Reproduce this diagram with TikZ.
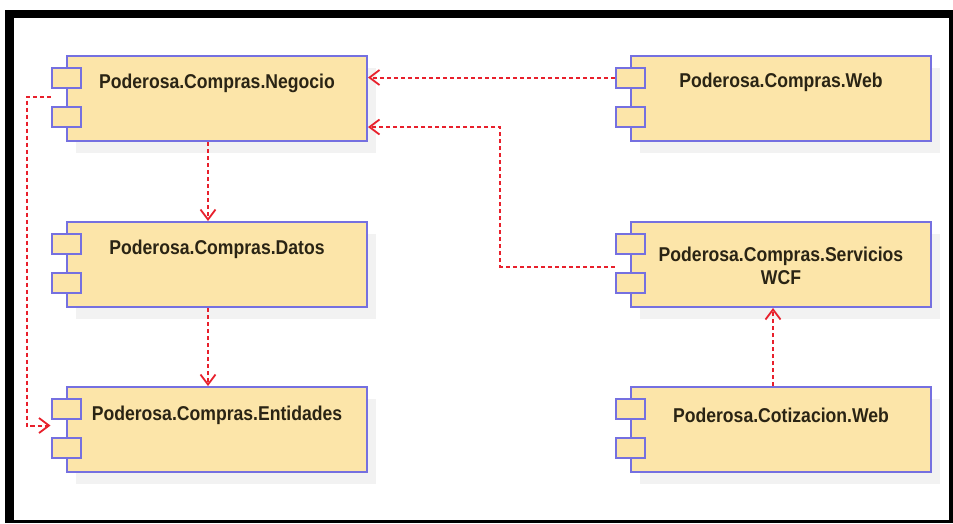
\documentclass[tikz,border=0pt]{standalone}
\usepackage{fontspec}
\usepackage{tikz}
\usetikzlibrary{shapes,positioning,calc,shadows}
\usetikzlibrary{arrows.meta}
\newfontfamily\compfont[FakeStretch=0.88]{Liberation Sans}
\definecolor{compfill}{HTML}{FCE5A9}
\definecolor{compline}{HTML}{7570E0}
\definecolor{depred}{HTML}{E8202C}
\definecolor{comptext}{HTML}{2A2414}
\tikzset{
  comp/.style={draw=compline, fill=compfill, line width=2pt,
    minimum width=300pt, minimum height=85pt, inner sep=0pt,
    drop shadow={shadow xshift=9pt, shadow yshift=-12pt, fill=black!5, opacity=1}},
  port/.style={draw=compline, fill=compfill, line width=2pt,
    minimum width=29pt, minimum height=20pt, inner sep=0pt},
  compname/.style={font=\compfont\bfseries\fontsize{20}{23}\selectfont,
    text=comptext, align=center, inner sep=0pt},
  dep/.style={draw=depred, line width=2pt, dash pattern=on 4pt off 3pt,
    -{Straight Barb[length=10pt,width=15pt,line width=1.8pt]}}
}
\begin{document}
\begin{tikzpicture}[x=1pt,y=-1pt]
\useasboundingbox (0,0) rectangle (953,523);
\fill[black] (5,10) rectangle (953,523);
\fill[white] (14,18) rectangle (949,520);

\node[comp] (neg) at (217, 98.5) {};
\node[comp] (dat) at (217,264.5) {};
\node[comp] (ent) at (217,429.5) {};
\node[comp] (web) at (781, 98.0) {};
\node[comp] (srv) at (781,264.5) {};
\node[comp] (cot) at (781,429.5) {};
\foreach \b in {neg,dat,ent,web,srv,cot}{
  \node[port] (\b-p1) at ($(\b.north west)+(0,23)$) {};
  \node[port] (\b-p2) at ($(\b.north west)+(0,62)$) {};
}

\node[compname] (neg-t) at ($(neg.north)+(0,28)$) {Poderosa.Compras.Negocio};
\node[compname] (dat-t) at ($(dat.north)+(0,28)$) {Poderosa.Compras.Datos};
\node[compname] (ent-t) at ($(ent.north)+(0,29)$) {Poderosa.Compras.Entidades};
\node[compname] (web-t) at ($(web.north)+(0,28)$) {Poderosa.Compras.Web};
\node[compname] (srv-t) at ($(srv.north)+(0,45)$) {Poderosa.Compras.Servicios\\WCF};
\node[compname] (cot-t) at ($(cot.north)+(0,29)$) {Poderosa.Cotizacion.Web};

\coordinate (jn) at (500,127);
\draw[dep] (web-p1.west) -- (web-p1.west -| neg.east);
\draw[dep] ([yshift=-2pt]srv-p1.west |- srv.west) -| (jn) -- (jn -| neg.east);
\draw[dep] ([xshift=-9pt]neg.south) -- ([xshift=-9pt]dat.north);
\draw[dep] ([xshift=-9pt]dat.south) -- ([xshift=-9pt]ent.north);
\draw[dep] ([yshift=2pt]neg-p1.west |- neg.west) -- ++(-24,0)
  |- ([yshift=4pt]ent-p1.west |- ent.west);
\draw[dep] ([xshift=-8pt]cot.north) -- ([xshift=-8pt]srv.south);
\end{tikzpicture}
\end{document}
